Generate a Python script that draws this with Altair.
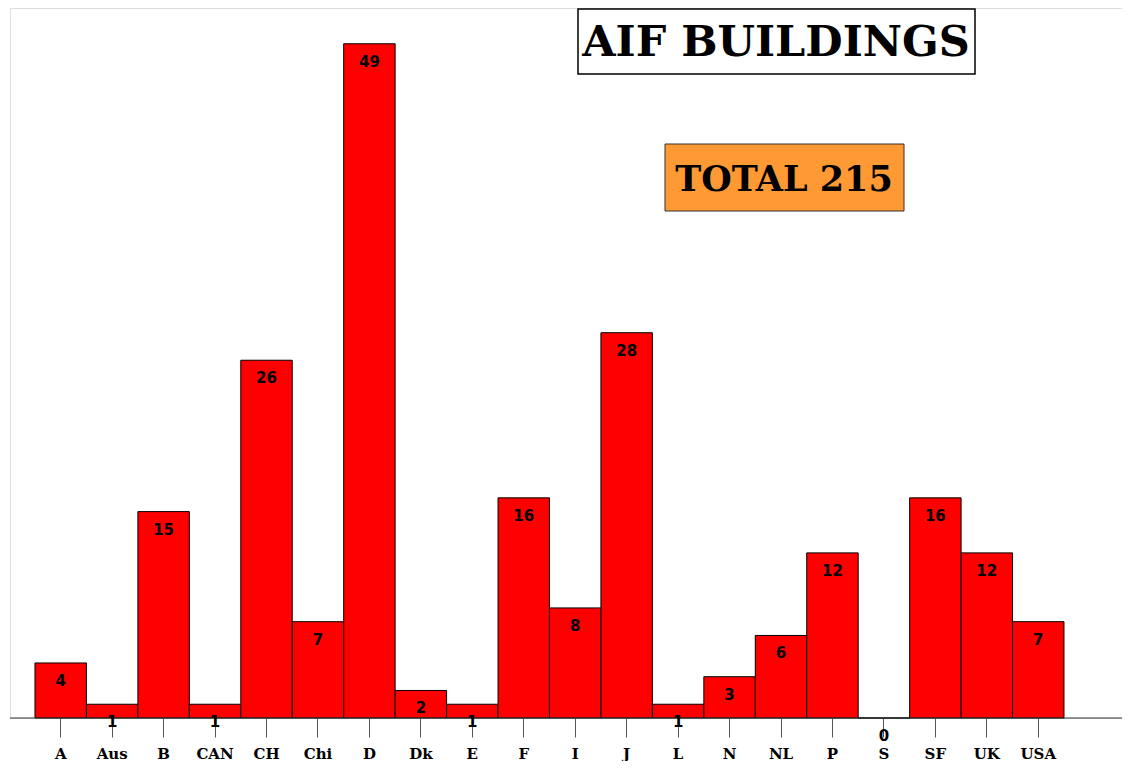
import altair as alt
import pandas as pd

countries = ["A", "Aus", "B", "CAN", "CH", "Chi", "D", "Dk", "E", "F",
             "I", "J", "L", "N", "NL", "P", "S", "SF", "UK", "USA"]
buildings = [4, 1, 15, 1, 26, 7, 49, 2, 1, 16, 8, 28, 1, 3, 6, 12, 0, 16, 12, 7]
title_text = ["AIF BUILDINGS"]
total_text = ["TOTAL 215"]

df = pd.DataFrame({"country": countries, "buildings": buildings})

W = 1112
H = 710

xscale = alt.Scale(domain=countries, paddingInner=0, paddingOuter=0.8066, align=0.301)
yscale = alt.Scale(domain=[0, 51.6], nice=False, zero=True)

xaxis = alt.Axis(labelAngle=0, labelFont="DejaVu Serif", labelFontWeight="bold",
                 labelFontSize=15, labelColor="#000000", tickSize=19,
                 tickColor="#555555", tickWidth=1, labelPadding=9,
                 labelBaseline="top", domain=False, grid=False)

base = alt.Chart(df)

bars = base.mark_bar(color="#FF0000", stroke="#000000", strokeWidth=1, size=51.45).encode(
    x=alt.X("country:N", scale=xscale, sort=countries, title=None, axis=xaxis),
    y=alt.Y("buildings:Q", scale=yscale, axis=None),
)

labels = base.mark_text(font="DejaVu Sans", fontWeight="bold", fontSize=15,
                        color="#000000", baseline="middle", dy=18).encode(
    x=alt.X("country:N", scale=xscale, sort=countries, title=None, axis=xaxis),
    y=alt.Y("buildings:Q", scale=yscale, axis=None),
    text=alt.Text("buildings:Q"),
)

axis_line = alt.Chart(pd.DataFrame({"v": [0]})).mark_rule(color="#333333", strokeWidth=1).encode(
    x=alt.value(0), x2=alt.value(W), y=alt.Y("v:Q", scale=yscale, axis=None),
)

tdf = pd.DataFrame({"t": title_text})
title_box = alt.Chart(tdf).mark_rect(fill="#FFFFFF", stroke="#000000", strokeWidth=1.5).encode(
    x=alt.value(568), x2=alt.value(965), y=alt.value(1), y2=alt.value(66))
title_txt = alt.Chart(tdf).mark_text(font="DejaVu Serif", fontWeight="bold", fontSize=43,
                                     color="#000000", baseline="middle", align="center").encode(
    x=alt.value(766), y=alt.value(35), text="t:N")

sdf = pd.DataFrame({"t": total_text})
total_box = alt.Chart(sdf).mark_rect(fill="#FF9933", stroke="#333333", strokeWidth=1).encode(
    x=alt.value(655), x2=alt.value(894), y=alt.value(136), y2=alt.value(203))
total_txt = alt.Chart(sdf).mark_text(font="DejaVu Serif", fontWeight="bold", fontSize=35,
                                     color="#000000", baseline="middle", align="center").encode(
    x=alt.value(774), y=alt.value(172), text="t:N")

chart = alt.layer(bars, axis_line, labels, title_box, title_txt, total_box, total_txt).properties(
    width=W, height=H,
    autosize=alt.AutoSizeParams(type="none"),
    padding={"left": 2, "top": 0, "right": 0, "bottom": 43},
).configure_view(stroke=None, strokeOpacity=0, strokeWidth=0).configure(background="#FFFFFF")

chart.save("out.html", embed_options={"renderer": "svg", "actions": False})
